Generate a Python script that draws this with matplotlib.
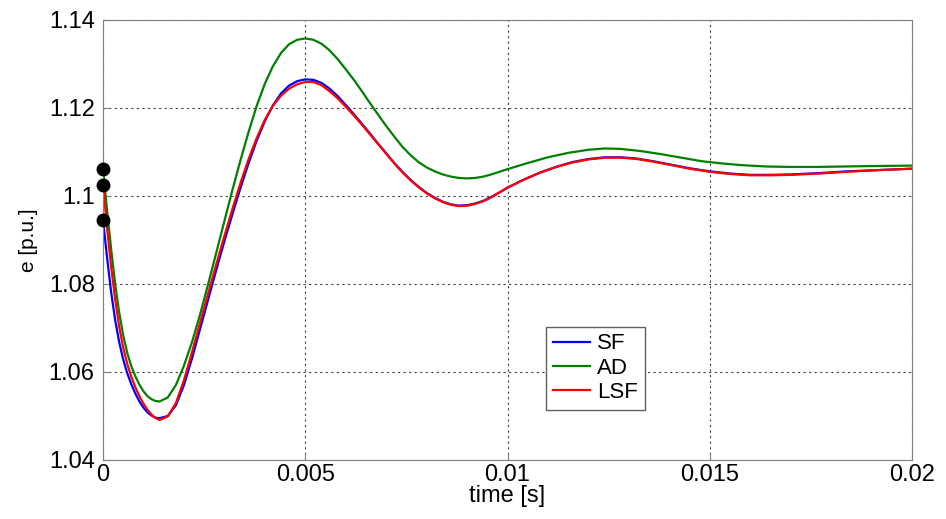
import numpy as np
import matplotlib
matplotlib.use('Agg')
import matplotlib.pyplot as plt

# time in ms, terminal voltage in p.u.
t_ms = [0, 0.1, 0.2, 0.3, 0.4, 0.5, 0.6, 0.7, 0.8, 0.9, 1.0, 1.1, 1.2, 1.3, 1.4,
        1.6, 1.8, 2.0, 2.2, 2.4, 2.6, 2.8, 3.0, 3.2, 3.4, 3.6, 3.8, 4.0, 4.2, 4.4,
        4.6, 4.8, 5.0, 5.2, 5.4, 5.6, 5.8, 6.0, 6.2, 6.4, 6.6, 6.8, 7.0, 7.2, 7.4,
        7.6, 7.8, 8.0, 8.2, 8.4, 8.6, 8.8, 9.0, 9.2, 9.4, 9.6, 9.8, 10.0,
        10.4, 10.8, 11.2, 11.6, 12.0, 12.4, 12.8, 13.2, 13.6, 14.0,
        14.5, 15.0, 15.5, 16.0, 16.5, 17.0, 17.7, 18.4, 19.2, 20.0]

e_sf = [1.0945, 1.0860, 1.0782, 1.0718, 1.0668, 1.0628, 1.0597, 1.0572, 1.0551, 1.0533,
        1.0519, 1.0508, 1.0501, 1.0496, 1.0495,
        1.0500, 1.0524, 1.0570, 1.0631, 1.0698, 1.0765, 1.0832, 1.0897, 1.0959, 1.1019,
        1.1075, 1.1126, 1.1170, 1.1206, 1.1233, 1.1251, 1.1261, 1.1265, 1.1264, 1.1257,
        1.1244, 1.1227, 1.1207, 1.1186, 1.1164, 1.1142, 1.1119, 1.1097, 1.1075, 1.1055,
        1.1037, 1.1021, 1.1007, 1.0996, 1.0987, 1.0981, 1.0978, 1.0979, 1.0983, 1.0989,
        1.0998, 1.1008, 1.1019,
        1.1037, 1.1053, 1.1066, 1.1077, 1.1084, 1.1088, 1.1088, 1.1085, 1.1079, 1.1072,
        1.1063, 1.1056, 1.1051, 1.1048, 1.1048, 1.1049, 1.1052, 1.1056, 1.1059, 1.1062]

e_lsf = [1.1025, 1.0928, 1.0840, 1.0765, 1.0703, 1.0655, 1.0618, 1.0589, 1.0565, 1.0545,
         1.0528, 1.0514, 1.0503, 1.0495, 1.0491,
         1.0499, 1.0529, 1.0581, 1.0645, 1.0712, 1.0779, 1.0845, 1.0909, 1.0971, 1.1030,
         1.1084, 1.1132, 1.1173, 1.1205, 1.1228, 1.1244, 1.1254, 1.1259, 1.1259, 1.1252,
         1.1238, 1.1222, 1.1203, 1.1183, 1.1162, 1.1140, 1.1118, 1.1096, 1.1074, 1.1054,
         1.1036, 1.1020, 1.1006, 1.0995, 1.0986, 1.0980, 1.0977, 1.0978, 1.0982, 1.0988,
         1.0997, 1.1008, 1.1019,
         1.1037, 1.1053, 1.1066, 1.1076, 1.1083, 1.1087, 1.1087, 1.1084, 1.1078, 1.1071,
         1.1062, 1.1055, 1.1050, 1.1047, 1.1047, 1.1048, 1.1051, 1.1055, 1.1059, 1.1062]

t_ad = [0, 0.1, 0.2, 0.3, 0.4, 0.5, 0.6, 0.7, 0.8, 0.9, 1.0, 1.1, 1.2, 1.3, 1.4,
        1.6, 1.8, 2.0, 2.2, 2.4, 2.6, 2.8, 3.0, 3.2, 3.4, 3.6, 3.8, 4.0, 4.2, 4.4,
        4.6, 4.8, 5.0, 5.2, 5.4, 5.6, 5.8, 6.0, 6.2, 6.4, 6.6, 6.8, 7.0, 7.2, 7.4,
        7.6, 7.8, 8.0, 8.2, 8.4, 8.6, 8.8, 9.0, 9.2, 9.4, 9.6, 9.8, 10.0,
        10.5, 11.0, 11.5, 12.0, 12.4, 12.8, 13.3, 13.8, 14.3, 14.8, 15.3, 15.8,
        16.4, 17.0, 17.6, 18.3, 19.0, 20.0]
e_ad = [1.1061, 1.0968, 1.0880, 1.0800, 1.0735, 1.0683, 1.0643, 1.0613, 1.0590, 1.0571,
        1.0556, 1.0545, 1.0538, 1.0534, 1.0533,
        1.0542, 1.0570, 1.0614, 1.0668, 1.0731, 1.0800, 1.0871, 1.0943, 1.1014, 1.1082,
        1.1146, 1.1205, 1.1255, 1.1295, 1.1325, 1.1345, 1.1355, 1.1358, 1.1355, 1.1346,
        1.1331, 1.1311, 1.1288, 1.1264, 1.1238, 1.1211, 1.1185, 1.1159, 1.1135, 1.1112,
        1.1093, 1.1077, 1.1065, 1.1056, 1.1049, 1.1044, 1.1041, 1.1040, 1.1041, 1.1044,
        1.1049, 1.1055, 1.1061,
        1.1075, 1.1088, 1.1098, 1.1105, 1.1108, 1.1107, 1.1102, 1.1095, 1.1087, 1.1079,
        1.1074, 1.1070, 1.1067, 1.1066, 1.1066, 1.1067, 1.1068, 1.1069]

x_ticks = [0, 0.005, 0.01, 0.015, 0.02]
x_labels = ['0', '0.005', '0.01', '0.015', '0.02']
y_ticks = [1.04, 1.06, 1.08, 1.10, 1.12, 1.14]
y_labels = ['1.04', '1.06', '1.08', '1.1', '1.12', '1.14']

plt.rcParams['font.family'] = ['Liberation Sans', 'DejaVu Sans']

fig = plt.figure(figsize=(9.46, 5.19), dpi=100)
ax = fig.add_axes([0.1089, 0.1137, 0.8552, 0.8478])

t = np.array(t_ms) / 1000
ax.plot(t, e_sf, color='#0000ff', lw=1.6, label='SF')
ax.plot(np.array(t_ad) / 1000, e_ad, color='#008000', lw=1.6, label='AD')
ax.plot(t, e_lsf, color='#ff0000', lw=1.6, label='LSF')

# initial values marked on the y axis
ax.plot([0, 0, 0], [e_ad[0], e_lsf[0], e_sf[0]], 'o', color='black', ms=9,
        clip_on=False, zorder=5)

ax.set_xlim(0, 0.02)
ax.set_ylim(1.04, 1.14)
ax.set_xticks(x_ticks, x_labels, fontsize=17)
ax.set_yticks(y_ticks, y_labels, fontsize=17)
ax.tick_params(direction='in', length=5, color='#808080')
ax.tick_params(axis='x', pad=3)
ax.tick_params(axis='y', pad=6)
ax.grid(True, linestyle=(0, (2, 3)), color='#404040', lw=0.8)
for s in ax.spines.values():
    s.set_color('#808080')

ax.set_xlabel('time [s]', fontsize=17, labelpad=-1)
ax.set_ylabel('e [p.u.]', fontsize=15, labelpad=8)

leg = ax.legend(loc='upper left', bbox_to_anchor=(0.5476, 0.303), borderaxespad=0,
                fontsize=16, handlelength=1.7, handletextpad=0.3, labelspacing=0.15,
                borderpad=0.3, fancybox=False, framealpha=1)
leg.get_frame().set_edgecolor('#606060')
leg.get_frame().set_linewidth(1.0)

fig.savefig('out.png', dpi=100)
